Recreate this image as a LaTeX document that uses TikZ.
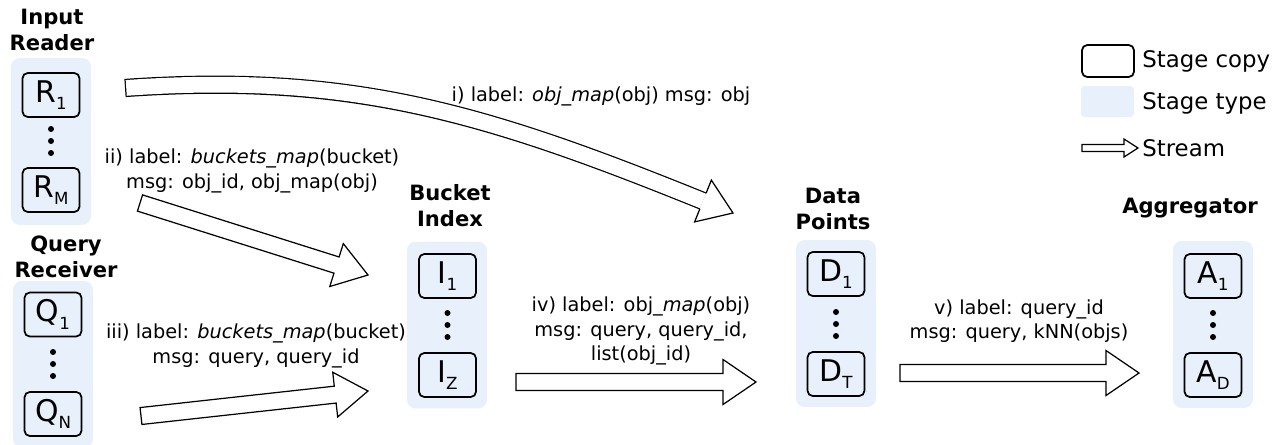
\documentclass[tikz,border=0pt]{standalone}
\usepackage{fontspec}
\setmainfont{DejaVu Sans}
\usetikzlibrary{calc}

\definecolor{stagefill}{RGB}{232,241,251}

% half shaft width, half head width, head length of a stream arrow
\newcommand{\shafth}{0.17cm}
\newcommand{\headh}{0.45cm}
\newcommand{\headl}{0.66cm}
\newcommand{\idx}[1]{\raisebox{-4.2pt}{\fontsize{9.5}{9.5}\selectfont #1}}
\newcommand{\stream}[2]{%
  \coordinate (sb) at ($(#2)!\headl!(#1)$);
  \filldraw[stream] ($(#1)!\shafth!90:(#2)$) -- ($(sb)!\shafth!90:(#2)$)
    -- ($(sb)!\headh!90:(#2)$) -- (#2) -- ($(sb)!\headh!-90:(#2)$)
    -- ($(sb)!\shafth!-90:(#2)$) -- ($(#1)!\shafth!-90:(#2)$) -- cycle;}

\begin{document}
\begin{tikzpicture}[x=0.02cm, y=-0.02cm,
    stagetype/.style={fill=stagefill, rounded corners=5pt, minimum width=1.6cm, minimum height=3.34cm},
    stagecopy/.style={draw, line width=1pt, rounded corners=3pt, minimum width=1.14cm, minimum height=0.88cm, inner sep=0pt, font=\fontsize{17}{20}\selectfont},
    title/.style={align=center, font=\fontsize{12}{14.8}\selectfont\bfseries},
    lbl/.style={align=center, font=\fontsize{11}{14}\selectfont},
    key/.style={anchor=west, inner sep=0pt, font=\fontsize{13}{15}\selectfont},
    stream/.style={draw, fill=white, line width=0.7pt}
]
    \useasboundingbox (0,0) rectangle (1285,444);

    % Stage types
    \node[stagetype] (reader) at (51,141.5) {};
    \node[stagetype] (receiver) at (53,364.5) {};
    \node[stagetype] (bucket) at (447,325) {};
    \node[stagetype] (points) at (836,323.5) {};
    \node[stagetype] (aggr) at (1213,324.5) {};

    \node[title] (reader title) at (52,30) {Input\\Reader};
    \node[title] (receiver title) at (66,257) {Query\\Receiver};
    \node[title] (bucket title) at (450,206) {Bucket\\Index};
    \node[title] (points title) at (833,209) {Data\\Points};
    \node[title] (aggr title) at (1190,208) {Aggregator};

    % Stage copies
    \node[stagecopy] (r1) at (51,95) {R\idx{1}};
    \node[stagecopy] (rm) at (51,190) {R\idx{M}};
    \node[stagecopy] (q1) at (53,314.5) {Q\idx{1}};
    \node[stagecopy] (qn) at (53,414) {Q\idx{N}};
    \node[stagecopy] (i1) at (447.5,276) {I\idx{1}};
    \node[stagecopy] (iz) at (447.5,375) {I\idx{Z}};
    \node[stagecopy] (d1) at (836,274) {D\idx{1}};
    \node[stagecopy] (dt) at (836,374) {D\idx{T}};
    \node[stagecopy] (a1) at (1213,276) {A\idx{1}};
    \node[stagecopy] (ad) at (1213,375) {A\idx{D}};

    \foreach \x/\y in {51/141, 53/364, 447.5/325, 836/324, 1213/325}
        \foreach \d in {-12,0,12}
            \fill (\x,\y+\d) circle (0.06cm);

    % Streams
    \coordinate (i tail) at (125,88);
    \coordinate (i base) at (703,201);
    \coordinate (i tip) at (733,213);
    \draw[line width=0.34cm+0.7pt] (i tail) to[out=4, in=158] (i base);
    \draw[white, line width=0.34cm-0.7pt, shorten <=0.7pt] (i tail) to[out=4, in=158] (i base);
    \filldraw[stream] ($(i base)!\shafth!90:(i tip)$) -- ($(i base)!\headh!90:(i tip)$) -- (i tip)
        -- ($(i base)!\headh!-90:(i tip)$) -- ($(i base)!\shafth!-90:(i tip)$);

    \coordinate (ii tail) at (140,203);
    \coordinate (ii tip) at (368,275);
    \coordinate (iii tail) at (141,416);
    \coordinate (iii tip) at (368,391);
    \coordinate (iv tail) at (516,382);
    \coordinate (iv tip) at (756,382);
    \coordinate (v tail) at (900,373);
    \coordinate (v tip) at (1139,373);
    \stream{ii tail}{ii tip}
    \stream{iii tail}{iii tip}
    \stream{iv tail}{iv tip}
    \stream{v tail}{v tip}

    \node[lbl] (i lbl) at (601,96) {i) label: \textit{obj\_map}(obj) msg: obj};
    \node[lbl] (ii lbl) at (252,171) {ii) label: \textit{buckets\_map}(bucket)\\msg: obj\_id, obj\_map(obj)};
    \node[lbl] (iii lbl) at (256,346) {iii) label: \textit{buckets\_map}(bucket)\\msg: query, query\_id};
    \node[lbl] (iv lbl) at (641,331) {iv) label: obj\_\textit{map}(obj)\\msg: query, query\_id,\\list(obj\_id)};
    \node[lbl] (v lbl) at (1019,321) {v) label: query\_id\\msg: query, kNN(objs)};

    % Legend
    \node[draw, line width=1pt, rounded corners=3pt, minimum width=1.04cm, minimum height=0.64cm] (key copy) at (1108,61) {};
    \node[fill=stagefill, rounded corners=2pt, minimum width=1.06cm, minimum height=0.62cm] (key type) at (1107.5,101.5) {};
    \coordinate (key tail) at (1082,148);
    \coordinate (key tip) at (1138,148);
    \begin{scope}
        \renewcommand{\shafth}{0.07cm}
        \renewcommand{\headh}{0.18cm}
        \renewcommand{\headl}{0.28cm}
        \stream{key tail}{key tip}
    \end{scope}
    \node[key] (key copy text) at (1142,61) {Stage copy};
    \node[key] (key type text) at (1142,103) {Stage type};
    \node[key] (key stream text) at (1142,148) {Stream};
\end{tikzpicture}
\end{document}
